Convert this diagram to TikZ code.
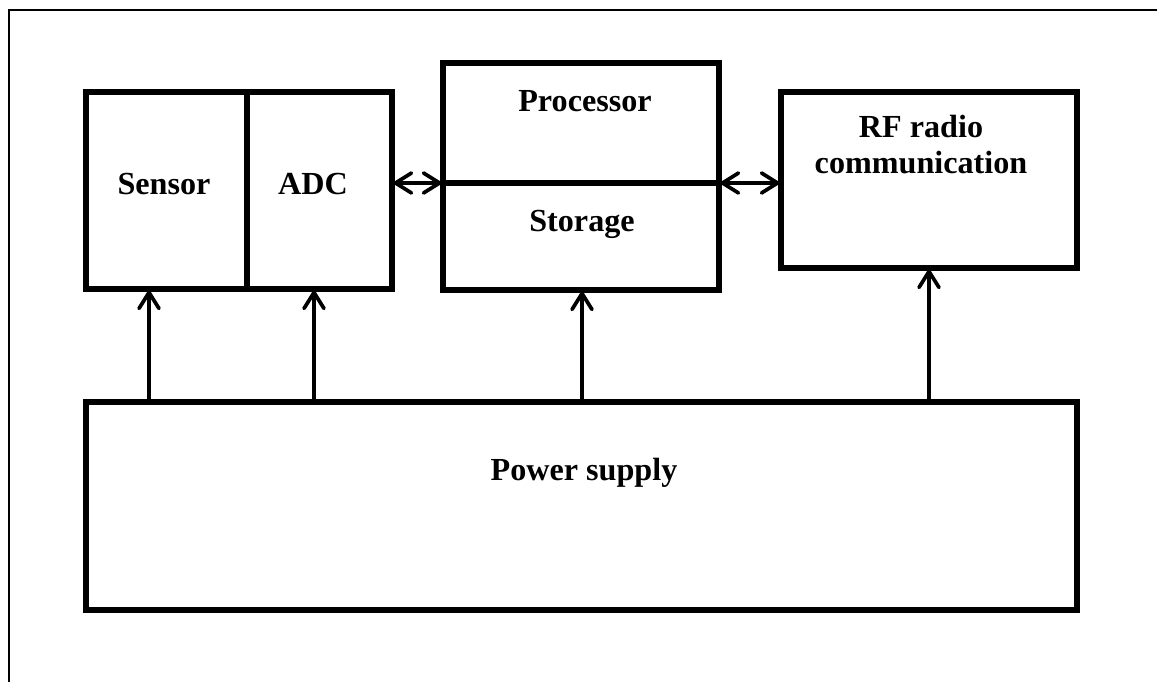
\documentclass[tikz,border=0pt]{standalone}
\usepackage{fontspec}
\setmainfont{Liberation Serif}
\usetikzlibrary{arrows.meta}
\def\px{0.02cm}
% box from (#2,#3) to (#4,#5), in pixels
\def\blk#1#2#3#4#5{\node[blk,minimum width={(#4-#2)*\px},minimum height={(#5-#3)*\px}] (#1) at ({(#2+#4)/2},{(#3+#5)/2}) {};}
\tikzset{
  blk/.style={draw,line width=3pt,inner sep=0pt,outer sep=0pt},
  lbl/.style={anchor=base,align=center,inner sep=0pt,font=\fontsize{18.3pt}{20.6pt}\selectfont\bfseries},
  tip/.style={line width=2.1pt,arrows={-Straight Barb[length=3.2mm,width=4mm,line cap=round]}},
  dbl/.style={line width=2.1pt,arrows={Straight Barb[length=3.2mm,width=4mm,line cap=round]-Straight Barb[length=3.2mm,width=4mm,line cap=round]}}
}
\begin{document}
\begin{tikzpicture}[x=0.02cm,y=-0.02cm]
\useasboundingbox (0,0) rectangle (1157,682);
\draw[line width=1.3pt] (9,682) -- (9,10) -- (1157,10);
\blk{sens}{86}{92}{247}{289}
\blk{adc}{247}{92}{392}{289}
\blk{proc}{443}{63}{719}{183}
\blk{stor}{443}{183}{719}{290}
\blk{rf}{781}{92}{1077}{268}
\blk{power}{86}{402}{1077}{610}
\node[lbl] (tsens) at (164,195) {Sensor};
\node[lbl] (tadc) at (313,195) {ADC};
\node[lbl] (tproc) at (585,112) {Processor};
\node[lbl] (tstor) at (582,232) {Storage};
\node[lbl] (trf) at (921,174) {RF radio\\communication};
\node[lbl] (tpower) at (584,480) {Power supply};
\draw[dbl] (adc.east |- stor.north) -- (proc.west |- stor.north);
\draw[dbl] (proc.east |- stor.north) -- (rf.west |- stor.north);
\coordinate (a1) at (149,0);
\coordinate (a2) at (314,0);
\coordinate (a3) at (582,0);
\coordinate (a4) at (929,0);
\foreach \a/\b in {a1/sens,a2/adc,a3/stor,a4/rf}
  \draw[tip] (power.north -| \a) -- (\b.south -| \a);
\end{tikzpicture}
\end{document}
